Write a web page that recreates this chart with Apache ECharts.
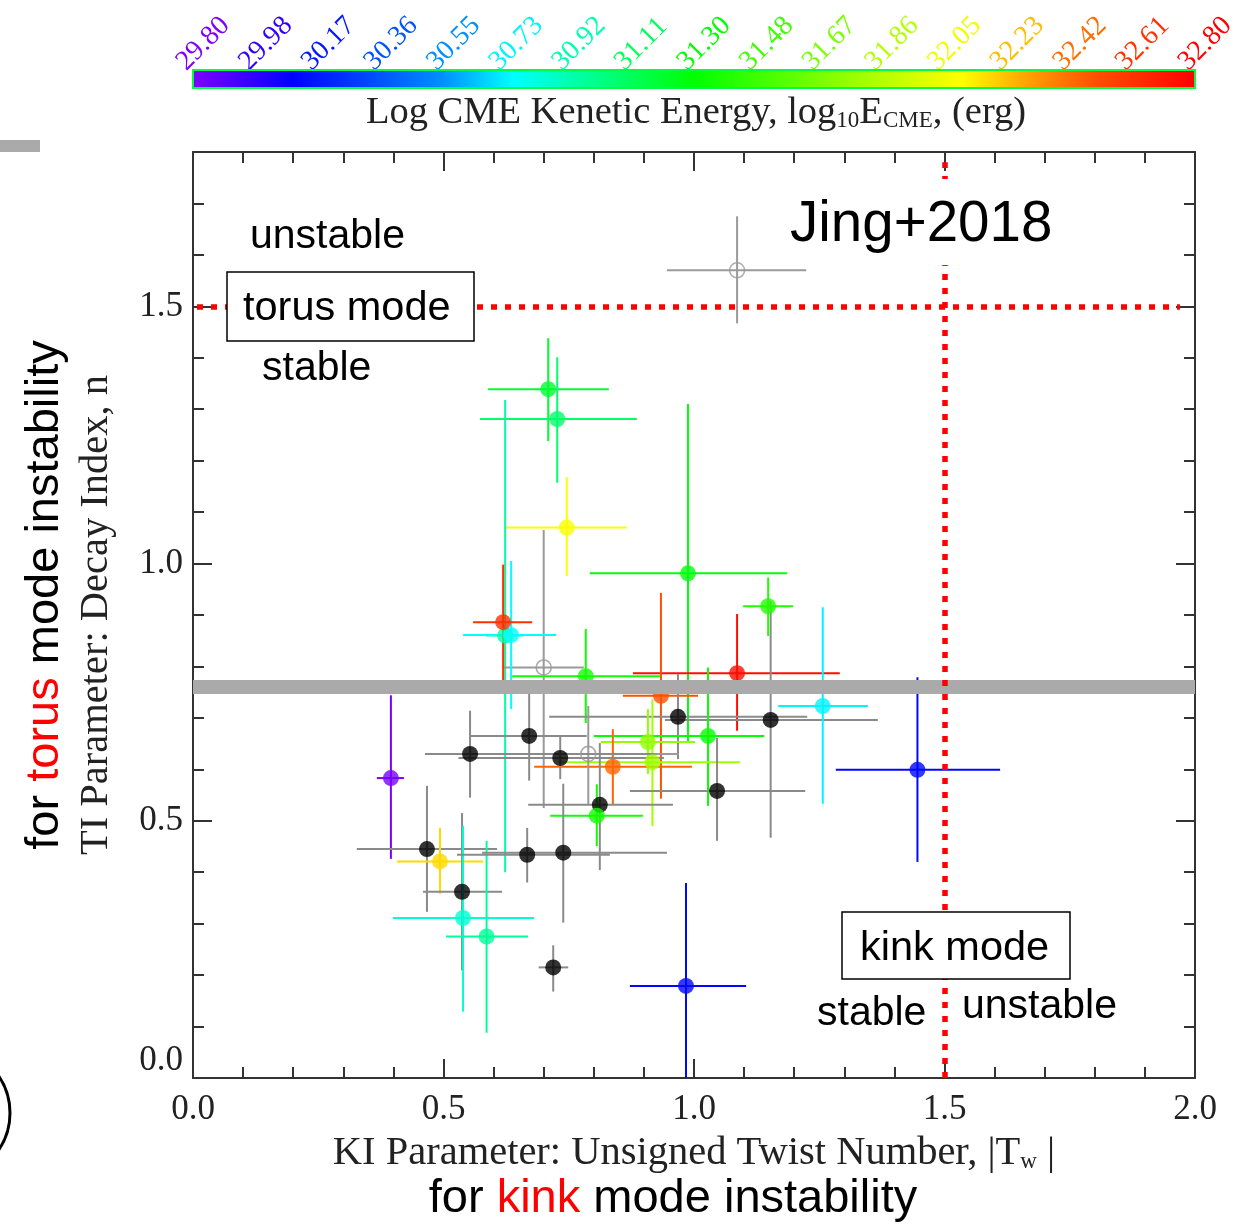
<!DOCTYPE html>
<html>
<head>
<meta charset="utf-8">
<script src="https://cdn.jsdelivr.net/npm/echarts@6/dist/echarts.min.js"></script>
<style>
html,body{margin:0;padding:0;background:#fff;}
#chart{width:1236px;height:1231px;}
</style>
</head>
<body>
<div id="chart"></div>
<script>
// ---- Active regions: twist number |Tw| (x), decay index n (y), with error ranges ----
const twist     = [1.086, 0.709, 0.727, 0.623, 0.746, 0.700, 0.784, 0.635, 0.619, 0.988, 1.148, 1.086, 0.934,
                   0.968, 1.153, 1.257, 1.446, 1.028, 0.908, 0.917, 0.838, 0.789, 0.553, 0.671, 0.733, 0.812,
                   0.806, 1.046, 0.395, 0.467, 0.493, 0.537, 0.539, 0.586, 0.719, 0.667, 0.739, 0.984];
const twistLow  = [0.946, 0.589, 0.573, 0.585, 0.625, 0.619, 0.637, 0.539, 0.559, 0.792, 1.098, 0.878, 0.858,
                   0.711, 0.942, 1.168, 1.283, 0.800, 0.814, 0.733, 0.681, 0.600, 0.463, 0.553, 0.530, 0.669,
                   0.713, 0.872, 0.367, 0.327, 0.407, 0.459, 0.399, 0.505, 0.690, 0.527, 0.577, 0.872];
const twistHigh = [1.224, 0.830, 0.886, 0.660, 0.866, 0.780, 0.932, 0.725, 0.677, 1.186, 1.198, 1.291, 1.008,
                   1.226, 1.367, 1.347, 1.611, 1.140, 1.002, 1.092, 0.996, 0.970, 0.922, 0.786, 0.940, 0.958,
                   0.898, 1.222, 0.421, 0.607, 0.579, 0.617, 0.681, 0.669, 0.749, 0.832, 0.946, 1.104];
const decay     = [1.570, 1.339, 1.281, 0.860, 1.070, 0.798, 0.781, 0.861, 0.886, 0.981, 0.917, 0.787, 0.743,
                   0.702, 0.696, 0.723, 0.599, 0.665, 0.653, 0.614, 0.605, 0.630, 0.630, 0.665, 0.622, 0.531,
                   0.510, 0.558, 0.583, 0.445, 0.421, 0.362, 0.311, 0.275, 0.215, 0.434, 0.438, 0.179];
const decayLow  = [1.467, 1.238, 1.157, 0.400, 0.976, 0.525, 0.690, 0.717, 0.772, 0.655, 0.859, 0.675, 0.543,
                   0.620, 0.467, 0.533, 0.420, 0.529, 0.591, 0.490, 0.532, 0.532, 0.545, 0.578, 0.581, 0.404,
                   0.451, 0.461, 0.426, 0.323, 0.358, 0.209, 0.129, 0.088, 0.168, 0.380, 0.302, 0.000];
const decayHigh = [1.675, 1.438, 1.401, 1.318, 1.168, 1.065, 0.873, 1.005, 0.998, 1.310, 0.973, 0.902, 0.943,
                   0.785, 0.927, 0.915, 0.779, 0.798, 0.717, 0.736, 0.678, 0.723, 0.714, 0.756, 0.665, 0.651,
                   0.571, 0.661, 0.744, 0.568, 0.486, 0.515, 0.490, 0.461, 0.258, 0.486, 0.572, 0.379];
// log10 of CME kinetic energy (erg); null where no CME energy is available
const logEnergy = [null, 31.20, 31.08, 30.95, 32.08, null, 31.35, 30.76, 32.62, 31.28, 31.40, 32.75, 32.50,
                   null, null, 30.74, 30.12, 31.32, 31.75, 31.80, 32.45, null, null, null, null, null,
                   31.35, null, 29.82, null, 32.18, null, 30.86, 30.98, null, null, null, 30.12];
// open symbols: events without an associated CME measurement
const openMarker = [true, false, false, false, false, true, false, false, false, false, false, false, false,
                    false, false, false, false, false, false, false, false, true, false, false, false, false,
                    false, false, false, false, false, false, false, false, false, false, false, false];

// ---- Colour scale for the CME energy ----
const energyRange = [29.80, 32.80];
const cmapEnergy = [29.80, 30.10, 30.35, 30.55, 30.76, 31.00, 31.30, 31.60, 31.90, 32.10, 32.30, 32.50, 32.80];
const cmapColor  = ['#8000ff', '#0000ff', '#0050ff', '#0090ff', '#00ffff', '#00ff90', '#00ff00',
                    '#60ff00', '#c0ff00', '#ffff00', '#ffa000', '#ff5000', '#ff0000'];
const energyTickLabels = ['29.80', '29.98', '30.17', '30.36', '30.55', '30.73', '30.92', '31.11', '31.30',
                          '31.48', '31.67', '31.86', '32.05', '32.23', '32.42', '32.61', '32.80'];

// ---- Instability thresholds ----
const torusCritical = 1.5;
const kinkCritical = 1.5;
const meanDecay = 0.76;
const torusLineSpan = [0.008, 1.97];
const kinkLineSpan = [0.0, 1.78];

function hexToRgb(h) {
  return [parseInt(h.slice(1, 3), 16), parseInt(h.slice(3, 5), 16), parseInt(h.slice(5, 7), 16)];
}
function energyColor(e) {
  if (e <= cmapEnergy[0]) return cmapColor[0];
  for (let k = 1; k < cmapEnergy.length; k++) {
    if (e <= cmapEnergy[k]) {
      const t = (e - cmapEnergy[k - 1]) / (cmapEnergy[k] - cmapEnergy[k - 1]);
      const a = hexToRgb(cmapColor[k - 1]), b = hexToRgb(cmapColor[k]);
      const c = a.map((v, j) => Math.round(v + (b[j] - v) * t));
      return 'rgb(' + c.join(',') + ')';
    }
  }
  return cmapColor[cmapColor.length - 1];
}
function barColor(i) {
  if (openMarker[i]) return '#9a9a9a';
  if (logEnergy[i] === null) return '#8a8a8a';
  return energyColor(logEnergy[i]);
}

const serif = '"Liberation Serif", "Times New Roman", serif';
const sans = '"Liberation Sans", Arial, sans-serif';
const axisColor = '#333333';

const errData = twist.map((x, i) => [x, twistLow[i], twistHigh[i], decay[i], decayLow[i], decayHigh[i], i]);
const pointData = twist.map((x, i) => {
  if (openMarker[i]) {
    return { value: [x, decay[i]], symbolSize: 15,
      itemStyle: { color: 'rgba(0,0,0,0)', borderColor: '#999999', borderWidth: 1.6 } };
  }
  return { value: [x, decay[i]], symbolSize: 16,
    itemStyle: { color: logEnergy[i] === null ? '#000000' : energyColor(logEnergy[i]) } };
});

const gradStops = cmapEnergy.map((e, k) => ({
  offset: (e - energyRange[0]) / (energyRange[1] - energyRange[0]), color: cmapColor[k]
}));

function mainAxis(extra) {
  return Object.assign({
    type: 'value',
    gridIndex: 0,
    axisLine: { show: true, onZero: false, lineStyle: { color: axisColor, width: 2 } },
    axisTick: { show: true, inside: true, length: 19, lineStyle: { color: axisColor, width: 2 } },
    minorTick: { show: true, splitNumber: 5, length: 11, lineStyle: { color: axisColor, width: 2 } },
    splitLine: { show: false },
    minorSplitLine: { show: false }
  }, extra);
}

const chart = echarts.init(document.getElementById('chart'), null, { renderer: 'canvas' });
chart.setOption({
  animation: false,
  backgroundColor: '#ffffff',
  grid: [
    { left: 193, top: 152, width: 1002, height: 926, outerBoundsMode: 'none', containLabel: false },
    { left: 193, top: 70, width: 1002, height: 18, outerBoundsMode: 'none', containLabel: false },
    { left: 181, top: 68, width: 1002, height: 10, outerBoundsMode: 'none', containLabel: false }
  ],
  xAxis: [
    mainAxis({
      min: 0, max: 2, interval: 0.5, position: 'bottom',
      axisLabel: { fontFamily: serif, fontSize: 35, color: '#222', margin: 14,
        formatter: v => Number(v).toFixed(1) },
      name: '{m|KI Parameter: Unsigned Twist Number, |T}{s|w}{m| |}',
      nameLocation: 'middle', nameGap: 46,
      nameTextStyle: { rich: {
        m: { fontFamily: serif, fontSize: 40.5, color: '#222', lineHeight: 46 },
        s: { fontFamily: serif, fontSize: 23, color: '#222', lineHeight: 28, padding: [19, 0, 0, 0] }
      } }
    }),
    mainAxis({ min: 0, max: 2, interval: 0.5, position: 'top', axisLabel: { show: false } }),
    { type: 'value', gridIndex: 1, min: energyRange[0], max: energyRange[1], show: false },
    { type: 'value', gridIndex: 2, min: 0, max: energyTickLabels.length - 1, interval: 1, position: 'top',
      axisLine: { show: false }, axisTick: { show: false }, splitLine: { show: false },
      axisLabel: { show: true, rotate: 45, margin: 2, fontFamily: serif, fontSize: 28,
        formatter: v => energyTickLabels[Math.round(Number(v))],
        color: v => energyColor(energyRange[0] + Number(v) * (energyRange[1] - energyRange[0]) / (energyTickLabels.length - 1)) } }
  ],
  yAxis: [
    mainAxis({
      min: 0, max: 1.8, interval: 0.5, position: 'left',
      axisLabel: { fontFamily: serif, fontSize: 35, color: '#222', margin: 10, showMaxLabel: false,
        verticalAlignMinLabel: 'bottom', formatter: v => Number(v).toFixed(1) },
      name: 'TI Parameter: Decay Index, n', nameLocation: 'middle', nameRotate: 90, nameGap: 76,
      nameTextStyle: { fontFamily: serif, fontSize: 40.5, color: '#222' }
    }),
    mainAxis({ min: 0, max: 1.8, interval: 0.5, position: 'right', axisLabel: { show: false } }),
    { type: 'value', gridIndex: 1, min: 0, max: 1, show: false },
    { type: 'value', gridIndex: 2, min: 0, max: 1, show: false }
  ],
  series: [
    // colour bar
    {
      type: 'custom', xAxisIndex: 2, yAxisIndex: 2, silent: true,
      data: [[energyRange[0], energyRange[1]]],
      renderItem: (params, api) => {
        const p0 = api.coord([api.value(0), 1]);
        const p1 = api.coord([api.value(1), 0]);
        return {
          type: 'rect',
          shape: { x: p0[0], y: p0[1], width: p1[0] - p0[0], height: p1[1] - p0[1] },
          style: {
            fill: new echarts.graphic.LinearGradient(0, 0, 1, 0, gradStops),
            stroke: '#00ff40', lineWidth: 2
          }
        };
      }
    },
    // error bars
    {
      type: 'custom', xAxisIndex: 0, yAxisIndex: 0, silent: true, z: 2,
      encode: { x: 0, y: 3 },
      data: errData,
      renderItem: (params, api) => {
        const i = api.value(6);
        const c = barColor(i);
        const h0 = api.coord([api.value(1), api.value(3)]);
        const h1 = api.coord([api.value(2), api.value(3)]);
        const v0 = api.coord([api.value(0), api.value(4)]);
        const v1 = api.coord([api.value(0), api.value(5)]);
        return {
          type: 'group',
          children: [
            { type: 'line', shape: { x1: h0[0], y1: h0[1], x2: h1[0], y2: h1[1] }, style: { stroke: c, lineWidth: 2 } },
            { type: 'line', shape: { x1: v0[0], y1: v0[1], x2: v1[0], y2: v1[1] }, style: { stroke: c, lineWidth: 2 } }
          ]
        };
      }
    },
    // mean decay index band
    {
      type: 'line', xAxisIndex: 0, yAxisIndex: 0, data: [], z: 3, silent: true,
      markLine: {
        silent: true, symbol: ['none', 'none'], label: { show: false },
        lineStyle: { color: '#aaaaaa', width: 14, type: 'solid' },
        data: [[{ coord: [0, meanDecay] }, { coord: [2, meanDecay] }]]
      }
    },
    // critical thresholds
    {
      type: 'line', xAxisIndex: 0, yAxisIndex: 0, data: [], z: 3, silent: true,
      markLine: {
        silent: true, symbol: ['none', 'none'], label: { show: false },
        lineStyle: { color: '#ff0000', width: 5.5, type: [6, 8] },
        data: [
          [{ coord: [torusLineSpan[0], torusCritical] }, { coord: [torusLineSpan[1], torusCritical] }],
          [{ coord: [kinkCritical, kinkLineSpan[0]] }, { coord: [kinkCritical, kinkLineSpan[1]] }]
        ]
      }
    },
    // event markers
    {
      type: 'scatter', xAxisIndex: 0, yAxisIndex: 0, z: 4, silent: true,
      symbol: 'circle', data: pointData
    }
  ],
  graphic: [
    { type: 'rect', z: 100, shape: { x: 0, y: 140, width: 40, height: 12 }, style: { fill: '#aaaaaa' } },
    { type: 'arc', z: 100, shape: { cx: -56, cy: 1113, r: 66, startAngle: -0.7, endAngle: 0.7 },
      style: { stroke: '#000', lineWidth: 3, fill: null } },
    // colour bar title
    { type: 'text', z: 100, x: 696, y: 113, style: {
      text: '{m|Log CME Kenetic Energy, log}{s|10}{m|E}{s|CME}{m|, (erg)}',
      align: 'center', verticalAlign: 'middle', textAlign: 'center', textVerticalAlign: 'middle',
      rich: {
        m: { fontFamily: serif, fontSize: 38.5, fill: '#222', lineHeight: 44 },
        s: { fontFamily: serif, fontSize: 23, fill: '#222', lineHeight: 28, padding: [16, 0, 0, 0] }
      } } },
    // torus mode annotation
    { type: 'text', z: 100, x: 250, y: 237, style: { text: 'unstable', fontFamily: sans, fontSize: 41, fill: '#000',
      verticalAlign: 'middle', textVerticalAlign: 'middle' } },
    { type: 'rect', z: 100, shape: { x: 227, y: 272, width: 247, height: 69 },
      style: { fill: '#fff', stroke: '#000', lineWidth: 1.5 } },
    { type: 'text', z: 101, x: 243, y: 309, style: { text: 'torus mode', fontFamily: sans, fontSize: 41.5, fill: '#000',
      verticalAlign: 'middle', textVerticalAlign: 'middle' } },
    { type: 'text', z: 100, x: 262, y: 369, style: { text: 'stable', fontFamily: sans, fontSize: 41, fill: '#000',
      verticalAlign: 'middle', textVerticalAlign: 'middle' } },
    // reference label
    { type: 'rect', z: 100, shape: { x: 786, y: 179, width: 270, height: 86 }, style: { fill: '#fff' } },
    { type: 'text', z: 101, x: 790, y: 225, style: { text: 'Jing+2018', fontFamily: sans, fontSize: 56.5, fill: '#000',
      verticalAlign: 'middle', textVerticalAlign: 'middle' } },
    // kink mode annotation
    { type: 'rect', z: 100, shape: { x: 842, y: 912, width: 228, height: 67 },
      style: { fill: '#fff', stroke: '#000', lineWidth: 1.5 } },
    { type: 'text', z: 101, x: 860, y: 949, style: { text: 'kink mode', fontFamily: sans, fontSize: 41.5, fill: '#000',
      verticalAlign: 'middle', textVerticalAlign: 'middle' } },
    { type: 'text', z: 100, x: 817, y: 1014, style: { text: 'stable', fontFamily: sans, fontSize: 41, fill: '#000',
      verticalAlign: 'middle', textVerticalAlign: 'middle' } },
    { type: 'text', z: 100, x: 962, y: 1007, style: { text: 'unstable', fontFamily: sans, fontSize: 41, fill: '#000',
      verticalAlign: 'middle', textVerticalAlign: 'middle' } },
    // outer captions
    { type: 'text', z: 100, x: 673, y: 1199, style: {
      text: '{a|for }{b|kink}{a| mode instability}',
      align: 'center', verticalAlign: 'middle', textAlign: 'center', textVerticalAlign: 'middle',
      rich: { a: { fontFamily: sans, fontSize: 47, fill: '#000' }, b: { fontFamily: sans, fontSize: 47, fill: '#ff0000' } }
    } },
    { type: 'text', z: 100, x: 45, y: 595, rotation: Math.PI / 2, style: {
      text: '{a|for }{b|torus}{a| mode instability}',
      align: 'center', verticalAlign: 'middle', textAlign: 'center', textVerticalAlign: 'middle',
      rich: { a: { fontFamily: sans, fontSize: 47, fill: '#000' }, b: { fontFamily: sans, fontSize: 47, fill: '#ff0000' } }
    } }
  ]
});
</script>
</body>
</html>
